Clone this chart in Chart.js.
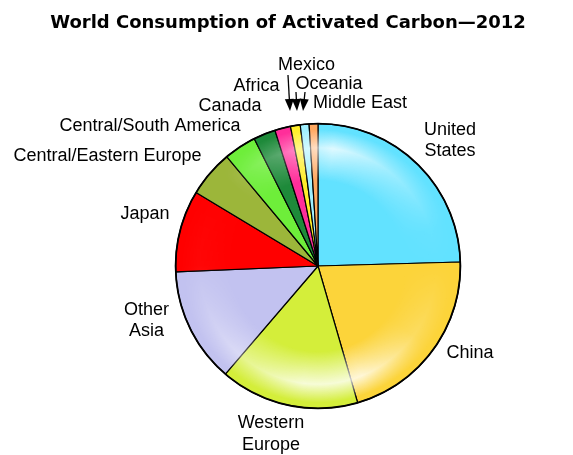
<!DOCTYPE html>
<html>
<head>
<meta charset="utf-8">
<script src="https://cdn.jsdelivr.net/npm/chart.js@4/dist/chart.umd.min.js"></script>
<style>
  html, body { margin: 0; padding: 0; background: #ffffff; }
  #wrap { width: 573px; height: 455px; position: relative; }
</style>
</head>
<body>
<div id="wrap"><canvas id="chart" width="573" height="455"></canvas></div>
<script>
// Regional shares of world activated carbon consumption, 2012 (percent)
const categories = [
  'United States', 'China', 'Western Europe', 'Other Asia', 'Japan',
  'Central/Eastern Europe', 'Central/South America', 'Canada', 'Africa',
  'Mexico', 'Oceania', 'Middle East'
];
const shares = [24.6, 21.0, 15.8, 13.1, 9.3, 5.3, 3.7, 2.5, 1.8, 1.1, 1.0, 1.0];

// Text of each slice label, split into lines
const labelLines = [
  ['United', 'States'], ['China'], ['Western', 'Europe'], ['Other', 'Asia'], ['Japan'],
  ['Central/Eastern Europe'], ['Central/South America'], ['Canada'], ['Africa'],
  ['Mexico'], ['Oceania'], ['Middle East']
];

const titleText = 'World Consumption of Activated Carbon\u20142012';

// Slice fills
const sliceColors = [
  '#62E2FF', '#FCD43A', '#D4EE3A', '#C2C2F0', '#FF0000',
  '#9CB63A', '#6EEE3A', '#1E8A3A', '#FF2E9A', '#FFEE2A', '#A0F0FF', '#FFA860'
];

// Label placement relative to the pie centre (first line centre), plus optional arrow
const labelLayout = [
  { dx: 132, dy: -136 },
  { dx: 152, dy: 87.5 },
  { dx: -47, dy: 157.5 },
  { dx: -171.5, dy: 44 },
  { dx: -173, dy: -52 },
  { dx: -210.5, dy: -110 },
  { dx: -168, dy: -140 },
  { dx: -88, dy: -159.5 },
  { dx: -61.5, dy: -179.5 },
  { dx: -11.5, dy: -201, arrow: [-30, -191, -28, -155] },
  { dx: 11, dy: -182, arrow: [-22, -174, -21, -155] },
  { dx: 42, dy: -163, arrow: [-13, -174, -15, -155] }
];
const LINE_HEIGHT = 21.5;

// Glossy ring highlight over the pie, then a firmer outer rim
const glossPlugin = {
  id: 'gloss',
  afterDatasetsDraw(chart) {
    const arc = chart.getDatasetMeta(0).data[0];
    if (!arc) return;
    const { x, y, outerRadius: r } = arc.getProps(['x', 'y', 'outerRadius'], true);
    const off = document.createElement('canvas');
    off.width = chart.width; off.height = chart.height;
    const o = off.getContext('2d');
    const rg = o.createRadialGradient(x, y, 0, x, y, r);
    rg.addColorStop(0, 'rgba(255,255,255,0)');
    rg.addColorStop(0.6, 'rgba(255,255,255,0)');
    rg.addColorStop(0.83, 'rgba(255,255,255,0.8)');
    rg.addColorStop(0.96, 'rgba(255,255,255,0)');
    rg.addColorStop(1, 'rgba(255,255,255,0)');
    o.fillStyle = rg;
    o.beginPath(); o.arc(x, y, r - 1, 0, Math.PI * 2); o.fill();
    // angular mask: strongest near top and bottom
    o.globalCompositeOperation = 'destination-in';
    const cg = o.createConicGradient(0, x, y);
    const stops = [
      [0, 0], [0.1, 0.25], [0.19, 1], [0.27, 1], [0.34, 0.6], [0.42, 0.3],
      [0.5, 0.03], [0.62, 0], [0.7, 0.35], [0.77, 1], [0.85, 0.5], [0.95, 0.05], [1, 0]
    ];
    stops.forEach(([p, a]) => cg.addColorStop(p, 'rgba(0,0,0,' + a + ')'));
    o.fillStyle = cg;
    o.fillRect(0, 0, off.width, off.height);
    const ctx = chart.ctx;
    ctx.drawImage(off, 0, 0);
    ctx.save();
    ctx.strokeStyle = '#000';
    ctx.lineWidth = 1.8;
    ctx.beginPath(); ctx.arc(x, y, r, 0, Math.PI * 2); ctx.stroke();
    ctx.restore();
  }
};

// Title, slice labels and pointer arrows
const labelPlugin = {
  id: 'sliceLabels',
  afterDraw(chart) {
    const ctx = chart.ctx;
    const arc = chart.getDatasetMeta(0).data[0];
    const cx = arc.x, cy = arc.y;
    ctx.save();
    ctx.fillStyle = '#000';
    ctx.textAlign = 'center';
    ctx.textBaseline = 'middle';
    ctx.font = 'bold 18px "DejaVu Sans"';
    ctx.fillText(titleText, 288, 23.5);

    ctx.font = '18px "Liberation Sans"';
    labelLines.forEach((lines, i) => {
      const lay = labelLayout[i];
      lines.forEach((t, k) => ctx.fillText(t, cx + lay.dx, cy + lay.dy + k * LINE_HEIGHT));
      if (lay.arrow) {
        const [x1, y1, x2, y2] = lay.arrow;
        const ax = cx + x1, ay = cy + y1, bx = cx + x2, by = cy + y2;
        const ang = Math.atan2(by - ay, bx - ax);
        const len = 12, half = 4.5;
        const hx = bx - len * Math.cos(ang), hy = by - len * Math.sin(ang);
        ctx.strokeStyle = '#000';
        ctx.lineWidth = 1.3;
        ctx.beginPath(); ctx.moveTo(ax, ay); ctx.lineTo(hx, hy); ctx.stroke();
        ctx.beginPath();
        ctx.moveTo(bx, by);
        ctx.lineTo(hx + half * Math.sin(ang), hy - half * Math.cos(ang));
        ctx.lineTo(hx - half * Math.sin(ang), hy + half * Math.cos(ang));
        ctx.closePath(); ctx.fill();
      }
    });
    ctx.restore();
  }
};

new Chart(document.getElementById('chart'), {
  type: 'pie',
  data: {
    labels: categories,
    datasets: [{
      data: shares,
      backgroundColor: sliceColors,
      borderColor: '#000000',
      borderWidth: 1.2
    }]
  },
  options: {
    responsive: false,
    animation: false,
    events: [],
    layout: { padding: { left: 175, right: 112, top: 123, bottom: 46 } },
    plugins: {
      legend: { display: false },
      title: { display: false },
      tooltip: { enabled: false }
    }
  },
  plugins: [glossPlugin, labelPlugin]
});
</script>
</body>
</html>
